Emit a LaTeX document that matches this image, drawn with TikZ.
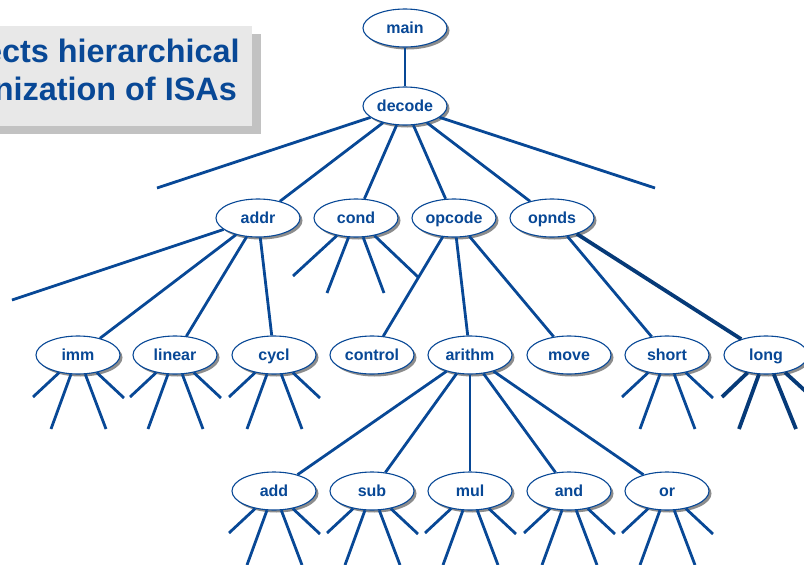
\documentclass[tikz,border=0pt]{standalone}
\usepackage{fontspec}
\setmainfont{Liberation Sans}
\usetikzlibrary{shapes.geometric,shadows}
\definecolor{isablue}{RGB}{8,72,150}
\definecolor{panelgray}{RGB}{232,232,232}
\definecolor{panelshade}{RGB}{194,194,194}
\tikzset{
  op/.style={ellipse, draw=isablue, line width=1.1pt, fill=white,
    minimum width=84pt, minimum height=38pt, inner sep=0pt,
    text height=11.5pt, text depth=0pt,
    text=isablue, font=\fontsize{16}{19}\selectfont\bfseries,
    drop shadow={shadow xshift=2.5pt, shadow yshift=-2.5pt, fill=black!45, opacity=1}},
  wire/.style={draw=isablue, line width=2.8pt},
  heavywire/.style={draw=isablue!80!black, line width=3.8pt},
  titletext/.style={text=isablue, font=\fontsize{32.4}{36}\selectfont\bfseries, inner sep=0pt},
}
\begin{document}
\begin{tikzpicture}[x=1pt,y=-1pt]
\useasboundingbox (0,0) rectangle (804,565);
\clip (0,0) rectangle (804,565);

% title panel with its shadow
\fill[panelshade] (-10,34) rectangle (261,134);
\fill[panelgray] (-10,26) rectangle (252,126);
\node[titletext, anchor=base east] (title1) at (240,62) {ects hierarchical};
\node[titletext, anchor=base east] (title2) at (237,100) {nization of ISAs};

% tree nodes
\node[op] (main)    at (405,28)  {main};
\node[op] (decode)  at (405,106) {decode};
\node[op] (addr)    at (258,218) {addr};
\node[op] (cond)    at (356,218) {cond};
\node[op] (opcode)  at (454,218) {opcode};
\node[op] (opnds)   at (552,218) {opnds};
\node[op] (imm)     at (78,355)  {imm};
\node[op] (linear)  at (175,355) {linear};
\node[op] (cycl)    at (274,355) {cycl};
\node[op] (control) at (372,355) {control};
\node[op] (arithm)  at (470,355) {arithm};
\node[op] (move)    at (569,355) {move};
\node[op] (short)   at (667,355) {short};
\node[op] (long)    at (766,355) {long};
\node[op] (add)     at (274,491) {add};
\node[op] (sub)     at (372,491) {sub};
\node[op] (mul)     at (470,491) {mul};
\node[op] (and)     at (569,491) {and};
\node[op] (or)      at (667,491) {or};

% loose ends of the upper fans
\coordinate (decode-l) at (157,188);
\coordinate (decode-r) at (655,188);
\coordinate (addr-l)   at (12,300);

% edges
\draw[wire] (main) -- (decode);
\draw[wire] (decode) -- (decode-l);
\draw[wire] (decode) -- (addr);
\draw[wire] (decode) -- (cond);
\draw[wire] (decode) -- (opcode);
\draw[wire] (decode) -- (opnds);
\draw[wire] (decode) -- (decode-r);

\draw[wire] (addr) -- (addr-l);
\draw[wire] (addr) -- (imm);
\draw[wire] (addr) -- (linear);
\draw[wire] (addr) -- (cycl);

\draw[wire] (opcode) -- (control);
\draw[wire] (opcode) -- (arithm);
\draw[wire] (opcode) -- (move);

\draw[wire] (opnds) -- (short);
\draw[heavywire] (opnds) -- (long);

\draw[wire] (arithm) -- (add);
\draw[wire] (arithm) -- (sub);
\draw[wire] (arithm) -- (mul);
\draw[wire] (arithm) -- (and);
\draw[wire] (arithm) -- (or);

% open fan under cond
\path (cond) +(-63,58) coordinate (cond-f1) +(-29,75) coordinate (cond-f2)
             +(28,75) coordinate (cond-f3) +(62,59) coordinate (cond-f4);
\foreach \k in {1,...,4} \draw[wire] (cond) -- (cond-f\k);

% open fans under the leaves
\foreach \n in {imm,linear,cycl,short,add,sub,mul,and,or} {
  \path (\n) +(-45,42) coordinate (\n-f1) +(-27,74) coordinate (\n-f2)
             +(28,74) coordinate (\n-f3) +(46,43) coordinate (\n-f4);
  \foreach \k in {1,...,4} \draw[wire] (\n) -- (\n-f\k);
}
\path (long) +(-44,42) coordinate (long-f1) +(-27,74) coordinate (long-f2)
             +(30,74) coordinate (long-f3) +(47,43) coordinate (long-f4);
\foreach \k in {1,...,4} \draw[heavywire] (long) -- (long-f\k);
\end{tikzpicture}
\end{document}
